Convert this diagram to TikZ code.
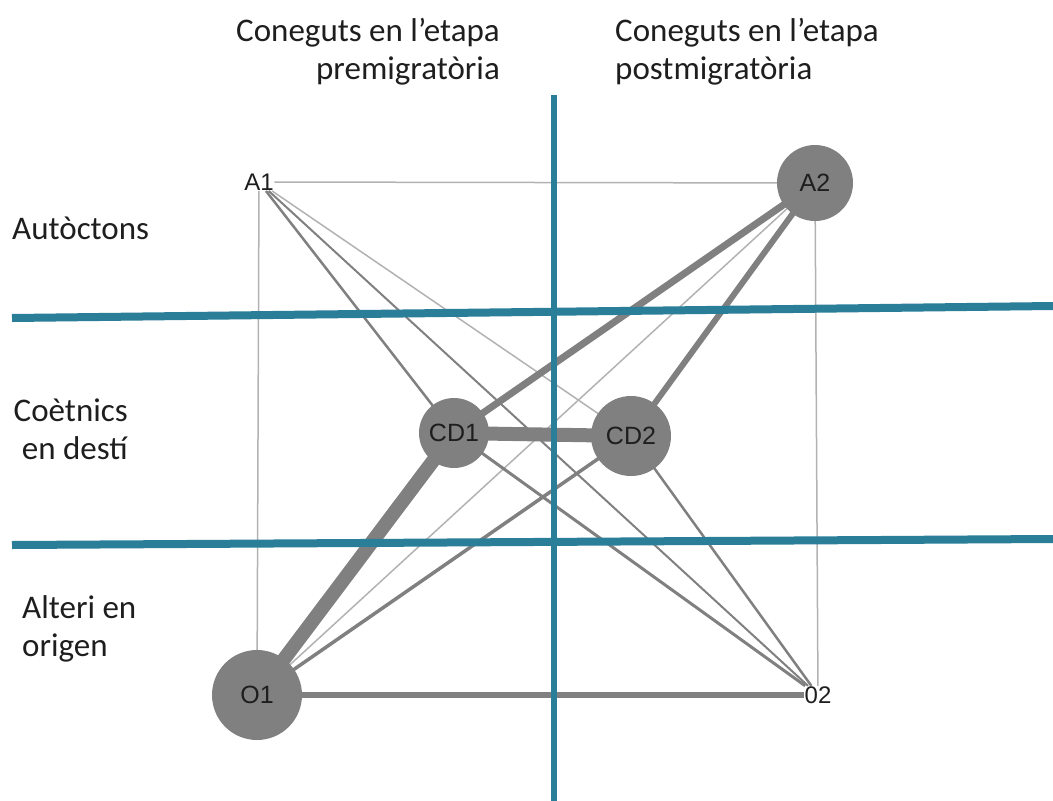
\documentclass[tikz,border=0pt]{standalone}
\usepackage{fontspec}
\setmainfont{Carlito}
\newfontfamily\arialfont{Liberation Sans}
\usetikzlibrary{positioning,backgrounds}
\definecolor{nodegray}{RGB}{128,128,128}
\definecolor{weakgray}{RGB}{178,178,178}
\definecolor{dividerblue}{RGB}{42,126,152}
\definecolor{inkgray}{RGB}{30,30,30}

\begin{document}
\begin{tikzpicture}
[
x=1pt, y=-1pt,
roundnode/.style={circle, fill=nodegray, inner sep=0, text=inkgray, font=\arialfont\fontsize{25}{25}\selectfont},
textnode/.style={inner sep=0.5pt, text=inkgray, font=\arialfont\fontsize{24}{24}\selectfont},
tie/.style={draw=nodegray, line width=#1},
weaktie/.style={draw=weakgray, line width=1.5},
divider/.style={draw=dividerblue, line width=#1},
caption/.style={font=\fontsize{33}{38}\selectfont, inner sep=0, text=inkgray}
]
\useasboundingbox (0,0) rectangle (1053,801);

% actors
\node[textnode] (A1) at (259,182) {A1};
\node[roundnode, minimum size=76pt] (A2) at (815,183) {A2};
\node[roundnode, minimum size=70pt] (CD1) at (454,433) {CD1};
\node[roundnode, minimum size=80pt] (CD2) at (631,436) {CD2};
\node[roundnode, minimum size=90pt] (O1) at (257,695) {O1};
\node[textnode] (O2) at (818,695) {02};

% ties
\begin{scope}[on background layer]
\draw[weaktie]  (A1) -- (A2.center);
\draw[weaktie]  (A1) -- (O1.center);
\draw[weaktie]  (A2.center) -- (O2);
\draw[weaktie]  (A1) -- (CD2.center);
\draw[weaktie]  (O1.center) -- (A2.center);
\draw[tie=2.5]  (A1) -- (CD1.center);
\draw[tie=2]    (A1) -- (O2);
\draw[tie=3]    (CD1.center) -- (O2);
\draw[tie=2.5]  (CD2.center) -- (O2);
\draw[tie=3.5]  (O1.center) -- (CD2.center);
\draw[tie=6]    (O1.center) -- (O2);
\draw[tie=6]    (CD2.center) -- (A2.center);
\draw[tie=7]    (CD1.center) -- (A2.center);
\draw[tie=14]   (CD1.center) -- (CD2.center);
\draw[tie=14]   (O1.center) -- (CD1.center);
\end{scope}

% quadrants
\coordinate (topnorth) at (554,95);
\coordinate (topsouth) at (554,801);
\coordinate (upperwest) at (12,318);
\coordinate (uppereast) at (1053,306);
\coordinate (lowerwest) at (12,545);
\coordinate (lowereast) at (1053,539);
\draw[divider=6.5] (topnorth) -- (topsouth);
\draw[divider=8]   (upperwest) -- (uppereast);
\draw[divider=8]   (lowerwest) -- (lowereast);

% captions
\node[caption, align=right, anchor=east] (pre)  at (500,52) {Coneguts en l’etapa\\premigratòria};
\node[caption, align=left, anchor=west]  (post) at (615,52) {Coneguts en l’etapa\\postmigratòria};
\node[caption, anchor=west] (aut) at (12,228) {Autòctons};
\node[caption, align=right, anchor=east] (coet) at (128,429) {Coètnics\\en destí};
\node[caption, align=left, anchor=west]  (alt)  at (22,629) {Alteri en\\origen};
\end{tikzpicture}
\end{document}
